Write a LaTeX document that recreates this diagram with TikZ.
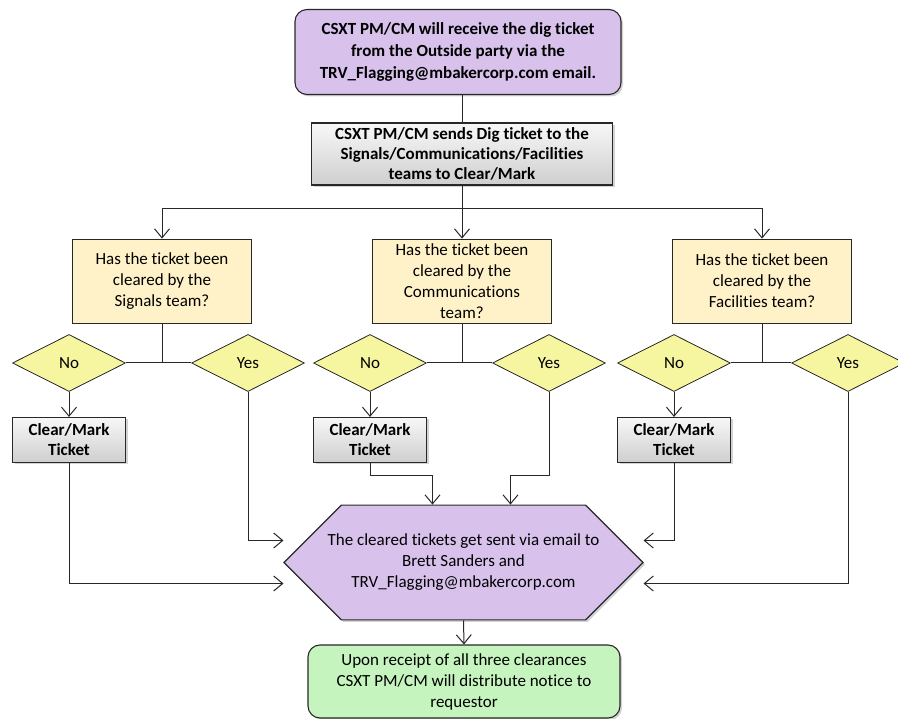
\documentclass[tikz,border=0pt]{standalone}
\usepackage{fontspec}
\setmainfont{Carlito}[Ligatures={NoCommon}]
\usepackage{tikz}
\usetikzlibrary{calc, arrows.meta, shapes.geometric, shapes.misc, shadows}

\definecolor{lilac}{RGB}{216,194,236}
\definecolor{cream}{RGB}{255,242,200}
\definecolor{lemon}{RGB}{246,245,160}
\definecolor{mint}{RGB}{198,244,190}
\definecolor{edge}{RGB}{40,40,40}

\begin{document}
\begin{tikzpicture}[x=1pt, y=-1pt]

        % Styles for the boxes, one per kind of step
        \tikzset{
            base/.style={draw=edge, line width=1.1pt, align=center, inner sep=0pt,
                font=\fontsize{17}{21}\selectfont},
            shade/.style={drop shadow={opacity=0.35, shadow xshift=2pt, shadow yshift=-2pt}},
            start/.style={base, shade, rounded corners=12pt, fill=lilac,
                font=\fontsize{17}{22}\selectfont\bfseries},
            task/.style={base, shade, top color=gray!6, bottom color=gray!38,
                font=\fontsize{17}{20}\selectfont\bfseries},
            question/.style={base, line width=0.8pt, fill=cream},
            answer/.style={base, diamond, line width=0.8pt, fill=lemon,
                minimum width=113pt, minimum height=57pt},
            collect/.style={base, shade, chamfered rectangle, chamfered rectangle xsep=29pt,
                chamfered rectangle ysep=29pt, fill=lilac},
            finish/.style={base, shade, rounded corners=12pt, fill=mint},
            arr/.style={draw=edge, line width=1pt, -{Straight Barb[length=9pt, width=15pt]}},
            line/.style={draw=edge, line width=1pt}
        }

        \useasboundingbox (0, 0) rectangle (898, 719);

        % Request and hand-off to the teams
        \node (top) at (458, 52) [start, minimum width=326pt, minimum height=85pt]
            {CSXT PM/CM will receive the dig ticket\\from the Outside party via the\\TRV\_Flagging@mbakercorp.com email.};
        \node (send) at (462, 154) [task, minimum width=301pt, minimum height=62pt]
            {CSXT PM/CM sends Dig ticket to the\\Signals/Communications/Facilities\\teams to Clear/Mark};
        \coordinate (fork) at (462, 209);

        % One question per team
        \node (qsig) at (162, 281) [question, minimum width=179pt, minimum height=84pt]
            {Has the ticket been\\cleared by the\\Signals team?};
        \node (qcom) at (462, 281) [question, minimum width=179pt, minimum height=84pt]
            {Has the ticket been\\cleared by the\\Communications\\team?};
        \node (qfac) at (762, 281) [question, minimum width=179pt, minimum height=84pt]
            {Has the ticket been\\cleared by the\\Facilities team?};

        % Answers
        \node (nosig) at (69, 363) [answer] {No};
        \node (yessig) at (248, 363) [answer] {Yes};
        \node (nocom) at (370, 363) [answer] {No};
        \node (yescom) at (549, 363) [answer] {Yes};
        \node (nofac) at (674, 363) [answer] {No};
        \node (yesfac) at (848, 363) [answer] {Yes};

        % Clearing when the answer is no
        \node (cmsig) at (69, 440) [task, minimum width=113pt, minimum height=45pt] {Clear/Mark\\Ticket};
        \node (cmcom) at (370, 440) [task, minimum width=113pt, minimum height=45pt] {Clear/Mark\\Ticket};
        \node (cmfac) at (674, 440) [task, minimum width=113pt, minimum height=45pt] {Clear/Mark\\Ticket};

        % Collecting and notice
        \node (hex) at (463.5, 562.5) [collect, minimum width=359pt, minimum height=99pt]
            {The cleared tickets get sent via email to\\Brett Sanders and\\TRV\_Flagging@mbakercorp.com};
        \node (done) at (464, 681.5) [finish, minimum width=312pt, minimum height=73pt]
            {Upon receipt of all three clearances\\CSXT PM/CM will distribute notice to\\requestor};

        % Connectors at the top
        \draw[line] (send.north) -- (send.north |- top.south);
        \draw[line] (send.south) -- (fork);
        \draw[arr] (fork) -| (qsig.north);
        \draw[arr] (fork) -- (qcom.north);
        \draw[arr] (fork) -| (qfac.north);

        % From the questions to the answers
        \begin{scope}
            \draw[line] (nosig.east) -- (yessig.west);
            \draw[line] (qsig.south) -- (qsig.south |- nosig.east);
            \draw[line] (nocom.east) -- (yescom.west);
            \draw[line] (qcom.south) -- (qcom.south |- nocom.east);
            \draw[line] (nofac.east) -- (yesfac.west);
            \draw[line] (qfac.south) -- (qfac.south |- nofac.east);

            \draw[arr] (nosig.south) -- (cmsig.north);
            \draw[arr] (nocom.south) -- (cmcom.north);
            \draw[arr] (nofac.south) -- (cmfac.north);
        \end{scope}

        % Everything goes into the email step
        \begin{scope}
            \draw[arr] (cmsig.south) |- ([yshift=-21pt]hex.west);
            \draw[arr] (yessig.south) |- ([yshift=22pt]hex.west);
            \draw[arr] (cmcom.south) |- ([xshift=-31pt, yshift=29pt]hex.north) -- ([xshift=-31pt]hex.north);
            \draw[arr] (yescom.south) |- ([xshift=47pt, yshift=29pt]hex.north) -- ([xshift=47pt]hex.north);
            \draw[arr] (cmfac.south) |- ([yshift=22pt]hex.east);
            \draw[arr] (yesfac.south) |- ([yshift=-21pt]hex.east);
            \draw[arr] (hex.south) -- (done.north);
        \end{scope}

\end{tikzpicture}
\end{document}
